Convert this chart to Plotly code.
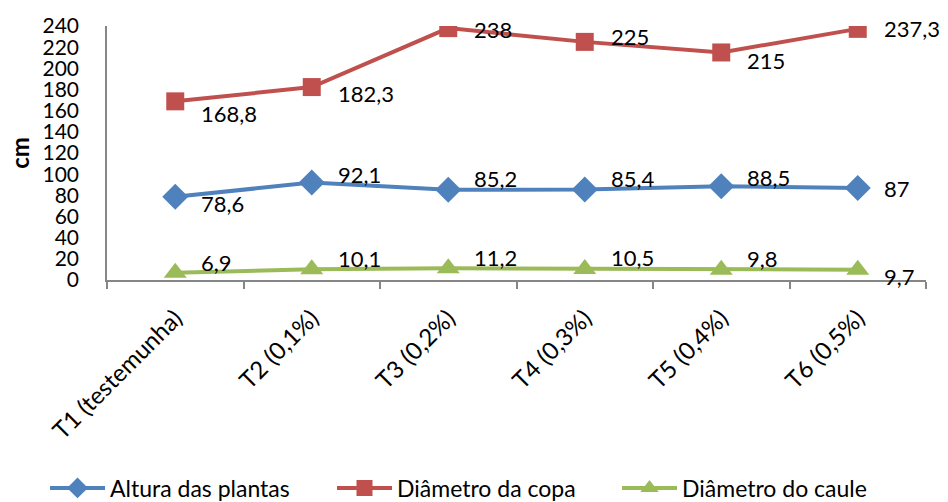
import plotly.graph_objects as go

categories = ["T1 (testemunha)", "T2 (0,1%)", "T3 (0,2%)", "T4 (0,3%)", "T5 (0,4%)", "T6 (0,5%)"]
altura = [78.6, 92.1, 85.2, 85.4, 88.5, 87]
copa = [168.8, 182.3, 238, 225, 215, 237.3]
caule = [6.9, 10.1, 11.2, 10.5, 9.8, 9.7]
y_ticks = list(range(0, 241, 20))

series = [
    ("Altura das plantas", altura, "#4F81BD", "diamond", 20, [-7, 8, 11, 11, 9, -1], "legend", 45),
    ("Diâmetro da copa", copa, "#C0504D", "square", 18, [-12, -6, -1, 5, -8, 0], "legend2", 332),
    ("Diâmetro do caule", caule, "#9BBB59", "triangle-up", 20, [10, 11, 11, 11, 11, -7], "legend3", 617),
]

def fmt(v):
    s = ("%g" % v)
    return s.replace(".", ",")

fig = go.Figure()
annotations = []
legends = {}
for name, vals, color, sym, msize, yshifts, lg, lx in series:
    fig.add_trace(go.Scatter(
        x=categories, y=vals, name=name, mode="lines+markers",
        line=dict(color=color, width=4),
        marker=dict(symbol=sym, size=msize, color=color),
        legend=lg,
    ))
    legends[lg] = dict(orientation="h", xref="container", yref="container", x=lx / 948, y=0.028,
                       xanchor="left", yanchor="middle", font=dict(family="Lato", size=23),
                       itemwidth=55, bgcolor="rgba(0,0,0,0)")
    for c, v, ys in zip(categories, vals, yshifts):
        annotations.append(dict(
            x=c, y=v, text=fmt(v), showarrow=False, xanchor="left", yanchor="middle",
            xshift=24, yshift=ys, font=dict(family="Lato", size=22, color="black"),
        ))

fig.update_layout(
    width=948, height=502,
    margin=dict(l=107, r=22, t=24, b=222),
    paper_bgcolor="white", plot_bgcolor="white",
    font=dict(family="Lato", size=21, color="black"),
    annotations=annotations,
    showlegend=True,
    **legends,
)
fig.update_xaxes(
    type="category", range=[-0.5, 5.5], showgrid=False,
    showline=True, linecolor="#868686", linewidth=1.5,
    ticks="outside", tickson="boundaries", ticklen=7, tickcolor="#868686", tickwidth=1.5,
    tickangle=-45, ticklabelstandoff=13, tickfont=dict(family="Lato", size=24, color="black"),
)
fig.update_yaxes(
    range=[0, 240], tickvals=y_ticks, ticktext=[str(t) for t in y_ticks],
    showgrid=False, zeroline=False, showline=True, linecolor="#868686", linewidth=1.5,
    ticks="", ticklabelstandoff=22, tickfont=dict(family="Lato", size=21, color="black"),
    title=dict(text="<b>cm</b>", font=dict(family="Lato", size=24), standoff=6),
)

fig.write_html("out.html")
